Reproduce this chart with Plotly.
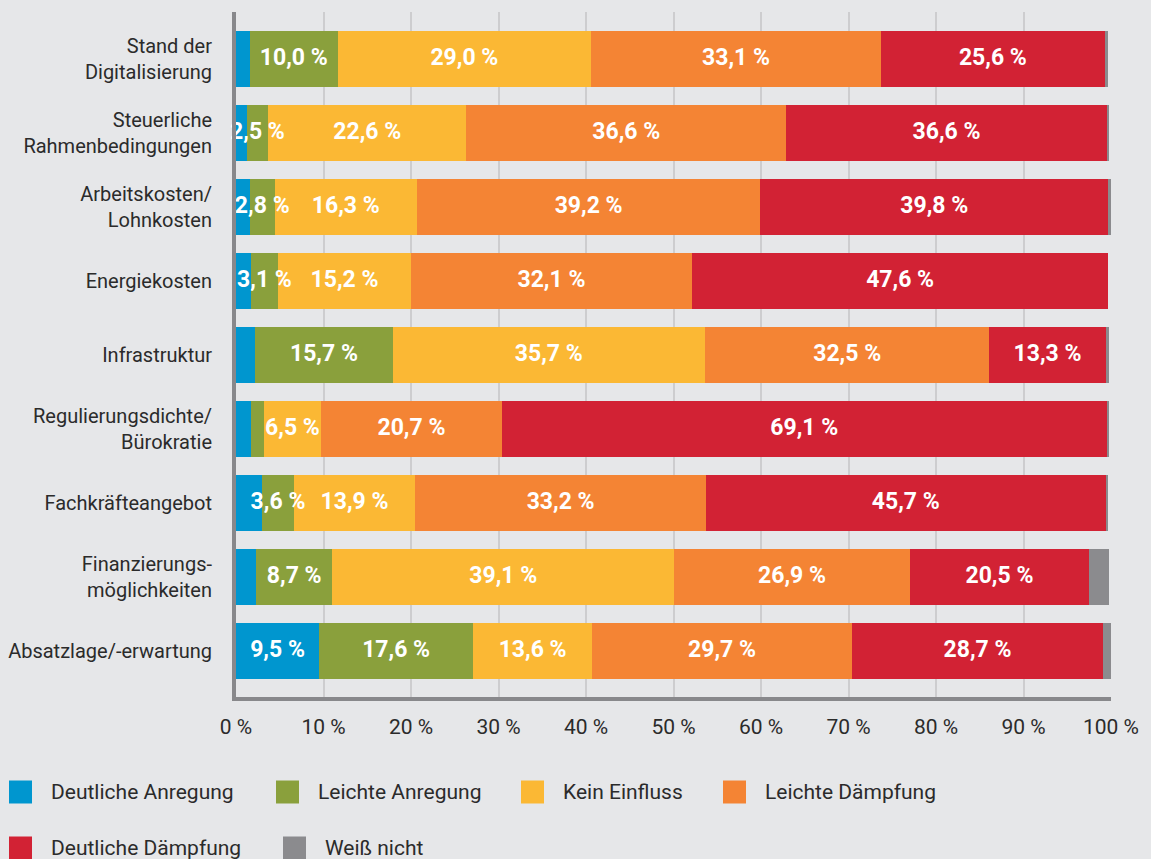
import plotly.graph_objects as go

categories = [
    "Stand der<br>Digitalisierung",
    "Steuerliche<br>Rahmenbedingungen",
    "Arbeitskosten/<br>Lohnkosten",
    "Energiekosten",
    "Infrastruktur",
    "Regulierungsdichte/<br>Bürokratie",
    "Fachkräfteangebot",
    "Finanzierungs-<br>möglichkeiten",
    "Absatzlage/-erwartung",
]

deutliche_anregung = [1.6, 1.2, 1.6, 1.7, 2.2, 1.7, 3.0, 2.3, 9.5]
leichte_anregung = [10.0, 2.5, 2.8, 3.1, 15.7, 1.5, 3.6, 8.7, 17.6]
kein_einfluss = [29.0, 22.6, 16.3, 15.2, 35.7, 6.5, 13.9, 39.1, 13.6]
leichte_daempfung = [33.1, 36.6, 39.2, 32.1, 32.5, 20.7, 33.2, 26.9, 29.7]
deutliche_daempfung = [25.6, 36.6, 39.8, 47.6, 13.3, 69.1, 45.7, 20.5, 28.7]
weiss_nicht = [0.4, 0.3, 0.3, 0.0, 0.4, 0.3, 0.3, 2.3, 0.9]

x_ticks = [0, 10, 20, 30, 40, 50, 60, 70, 80, 90, 100]

series = [
    ("Deutliche Anregung", deutliche_anregung, "#0096cf", 5.0),
    ("Leichte Anregung", leichte_anregung, "#8aa03c", 2.0),
    ("Kein Einfluss", kein_einfluss, "#fbb834", 2.0),
    ("Leichte Dämpfung", leichte_daempfung, "#f48434", 2.0),
    ("Deutliche Dämpfung", deutliche_daempfung, "#d22234", 2.0),
    ("Weiß nicht", weiss_nicht, "#8b8b8e", 999),
]

FONT = "Roboto, Arial, sans-serif"
TEXT = "#2b2b2b"
BG = "#e6e7e9"


def label(v, min_v):
    if v < min_v:
        return ""
    return f"{v:.1f}".replace(".", ",") + " %"


fig = go.Figure()
base = [0.0] * len(categories)
lab_x, lab_y, lab_t = [], [], []
for name, vals, color, min_v in series:
    fig.add_trace(go.Bar(
        name=name,
        y=categories,
        x=vals,
        orientation="h",
        marker=dict(color=color, line=dict(width=0)),
        width=0.757,
        showlegend=False,
        hoverinfo="skip",
    ))
    for i, v in enumerate(vals):
        t = label(v, min_v)
        if t:
            lab_x.append(base[i] + v / 2)
            lab_y.append(categories[i])
            lab_t.append(t)
        base[i] += v

# segment labels on top of all bars so they may run over neighbours
fig.add_trace(go.Scatter(
    x=lab_x, y=lab_y, text=lab_t, mode="text",
    textposition="middle center",
    textfont=dict(family=FONT, size=23, color="white", weight="bold"),
    cliponaxis=False, showlegend=False, hoverinfo="skip",
))

# legend built by hand: big square swatches in two rows
W, H = 875, 685
L, B = 236, 697
legend_pos = [(9, 792), (276, 792), (521, 792), (723, 792), (9, 848), (283, 848)]
for (name, vals, color, _), (px, py) in zip(series, legend_pos):
    fig.add_shape(type="rect", xref="paper", yref="paper",
                  x0=(px - L) / W, x1=(px + 23 - L) / W,
                  y0=(B - py - 11.5) / H, y1=(B - py + 11.5) / H,
                  fillcolor=color, line=dict(width=0))
    fig.add_annotation(text=name, xref="paper", yref="paper",
                       x=(px + 40 - L) / W, y=(B - py) / H,
                       xanchor="left", yanchor="middle", showarrow=False,
                       font=dict(family=FONT, size=21, color=TEXT))

fig.update_layout(
    barmode="stack",
    width=1151,
    height=859,
    margin=dict(l=236, r=40, t=12, b=162),
    paper_bgcolor=BG,
    plot_bgcolor=BG,
    font=dict(family=FONT, size=21, color=TEXT),
    xaxis=dict(
        range=[0, 100],
        tickvals=x_ticks,
        ticktext=[f"{t} %" for t in x_ticks],
        showgrid=True,
        gridcolor="#cdcdcf",
        gridwidth=2,
        zeroline=False,
        showline=True,
        linecolor="#88888b",
        linewidth=4,
        ticklabelstandoff=8,
        automargin=False,
        tickfont=dict(family=FONT, size=21, color=TEXT),
    ),
    yaxis=dict(
        categoryorder="array",
        categoryarray=categories,
        range=[8.62, -0.635],
        showgrid=False,
        zeroline=False,
        showline=True,
        linecolor="#88888b",
        linewidth=4,
        ticklabelstandoff=16,
        automargin=False,
        tickfont=dict(family=FONT, size=20, color=TEXT),
    ),
)

fig.write_html("out.html", config={"displayModeBar": False},
               post_script="document.body.style.margin='0';")
